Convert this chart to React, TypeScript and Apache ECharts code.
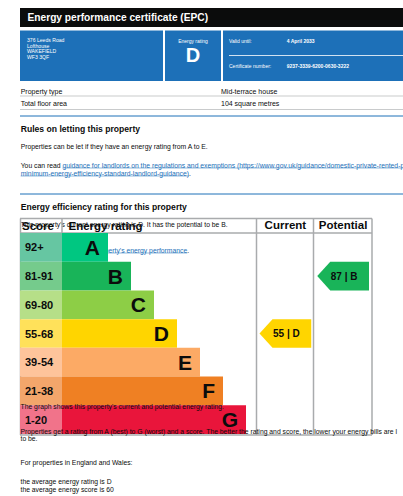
import React, { useEffect, useRef } from 'react';
import * as echarts from 'echarts';

const ratingLetters = ['A', 'B', 'C', 'D', 'E', 'F', 'G'];
const scoreBands = ['92+', '81-91', '69-80', '55-68', '39-54', '21-38', '1-20'];
const barLengths = [2, 3, 4, 5, 6, 7, 8];
const barColors = ['#00c781', '#19b459', '#8dce46', '#ffd500', '#fcaa65', '#ef8023', '#e9153b'];
const scoreColors = ['#66c6a2', '#75cb8c', '#b6df88', '#ffe15a', '#fec49b', '#f3a66b', '#f1738a'];
const ratingColumns = ['Current', 'Potential'];
const ratingScores = [55, 87];
const ratingBands = ['D', 'B'];

const addressLines = ['376 Leeds Road', 'Lofthouse', 'WAKEFIELD', 'WF3 3QF'];
const certificateRating = 'D';
const validUntil = '4 April 2033';
const certificateNumber = '9237-3339-6200-0630-3222';
const propertyRows = [
  ['Property type', 'Mid-terrace house'],
  ['Total floor area', '104 square metres'],
];

const FONT = '"Liberation Sans", Arial, Helvetica, sans-serif';
const INK = '#0b0c0c';
const BLUE = '#1d70b8';
const GREY = '#b1b4b6';
const TABLE = '#a9abad';
const BODY = 6.8;

let measureCtx: CanvasRenderingContext2D | null = null;
const tw = (text: string, size: number, bold = false) => {
  if (!measureCtx) measureCtx = document.createElement('canvas').getContext('2d');
  if (!measureCtx) return text.length * size * 0.5;
  measureCtx.font = `${bold ? 'bold ' : ''}${size}px ${FONT}`;
  return measureCtx.measureText(text).width;
};

type TOpts = { bold?: boolean; color?: string; align?: string; z?: number };
const T = (x: number, y: number, text: string, size: number, o: TOpts = {}) => ({
  type: 'text',
  x,
  y,
  z: o.z ?? 20,
  style: {
    text,
    fill: o.color ?? INK,
    font: `${o.bold ? 'bold ' : ''}${size}px ${FONT}`,
    textAlign: o.align ?? 'left',
    align: o.align ?? 'left',
    textVerticalAlign: 'middle',
    verticalAlign: 'middle',
  },
});
const L = (x1: number, y1: number, x2: number, y2: number, stroke: string, w: number, z = 20) => ({
  type: 'line',
  z,
  shape: { x1, y1, x2, y2 },
  style: { stroke, lineWidth: w },
});
const R = (x: number, y: number, width: number, height: number, fill: string, z = 20) => ({
  type: 'rect',
  z,
  shape: { x, y, width, height },
  style: { fill },
});
// a run of plain text followed by a link (underlined) and a tail
const linkRun = (x: number, y: number, pre: string, link: string, post: string, z = 20, ulEnd?: number) => {
  const x1 = x + tw(pre, BODY);
  const x2 = x1 + tw(link, BODY);
  const out: any[] = [];
  if (pre) out.push(T(x, y, pre, BODY, { z }));
  out.push(T(x1, y, link, BODY, { z, color: BLUE }));
  out.push(L(x1, y + 3, ulEnd ?? x2, y + 3, BLUE, 0.5, z));
  if (post) out.push(T(x2, y, post, BODY, { z }));
  return out;
};

export default function App() {
  const ref = useRef<HTMLDivElement>(null);
  useEffect(() => {
    if (!ref.current) return;
    const chart = echarts.init(ref.current, undefined, { renderer: 'svg' });
    const gTop = 233;
    const gH = 201;

    const graphics: any[] = [
      // header
      R(20, 8, 383, 19, INK),
      T(27.5, 17.5, 'Energy performance certificate (EPC)', 10.2, { bold: true, color: '#fff' }),
      R(20, 30.5, 143, 50.5, BLUE),
      R(165, 30.5, 56, 50.5, BLUE),
      R(223, 30.5, 180, 50.5, BLUE),
      ...addressLines.map((t, i) => T(27, 40 + i * 5.7, t, 5.1, { color: '#fff' })),
      T(193, 40.5, 'Energy rating', 5, { color: '#fff', align: 'center' }),
      T(193, 54.5, certificateRating, 20, { color: '#fff', align: 'center', bold: true }),
      T(229, 40.5, 'Valid until:', 5, { color: '#fff' }),
      T(286.7, 40.5, validUntil, 5, { color: '#fff', bold: true }),
      L(229, 55.5, 403, 55.5, '#fff', 0.8),
      T(229, 66, 'Certificate number:', 5, { color: '#fff' }),
      T(286.7, 66, certificateNumber, 5, { color: '#fff', bold: true }),
      // property rows
      ...propertyRows.flatMap((r, i) => [
        T(20.7, 91 + i * 12, r[0], 7),
        T(221, 91 + i * 12, r[1], 7),
        L(20, 96 + i * 13.5, 403, 96 + i * 13.5, GREY, 0.7),
      ]),
      L(20, 116, 403, 116, BLUE, 1),
      T(20.7, 128.5, 'Rules on letting this property', 8.6, { bold: true }),
      T(20.7, 146, 'Properties can be let if they have an energy rating from A to E.', BODY),
      ...linkRun(
        20.7,
        165,
        'You can read ',
        'guidance for landlords on the regulations and exemptions (https://www.gov.uk/guidance/domestic-private-rented-prop',
        '',
        20,
        403
      ),
      ...linkRun(20.7, 173, '', 'minimum-energy-efficiency-standard-landlord-guidance)', '.'),
      L(20, 194, 403, 194, BLUE, 1),
      T(20.7, 207, 'Energy efficiency rating for this property', 8.6, { bold: true }),
      // texts behind table
      T(20.5, 224, "This property's current energy rating is D. It has the potential to be B.", BODY, { z: 1 }),
      ...linkRun(20.5, 250, 'See how to ', "improve this property's energy performance", '.', 1),
      // table lines
      L(20, 218.5, 372, 218.5, TABLE, 1.5, 1),
      L(20, 233, 372, 233, TABLE, 1.5, 1),
      L(20, 435, 372, 435, TABLE, 1.5, 1),
      L(20.5, 218.5, 20.5, 435, TABLE, 1.5, 1),
      L(62, 218.5, 62, 233, TABLE, 1.5, 1),
      L(256.5, 218.5, 256.5, 435, TABLE, 1.5, 1),
      L(313.5, 218.5, 313.5, 435, TABLE, 1.5, 1),
      L(372, 218.5, 372, 435, TABLE, 1.5, 1),
      T(22, 226, 'Score', 11.5, { bold: true, z: 5 }),
      T(68.5, 226, 'Energy rating', 11.5, { bold: true, z: 5 }),
      // texts over table
      T(20.5, 406.7, "The graph shows this property's current and potential energy rating.", BODY, { z: 20 }),
      T(
        20.5,
        431,
        'Properties get a rating from A (best) to G (worst) and a score. The better the rating and score, the lower your energy bills are l',
        BODY,
        { z: 20 }
      ),
      T(20.5, 438.8, 'to be.', BODY),
      T(20.5, 462, 'For properties in England and Wales:', BODY),
      T(20.5, 481, 'the average energy rating is D', BODY),
      T(20.5, 489, 'the average energy score is 60', BODY),
    ];

    const option: any = {
      animation: false,
      backgroundColor: '#fff',
      grid: [
        { left: 20, top: gTop, width: 42, height: gH },
        { left: 62, top: gTop, width: 184, height: gH },
        { left: 256.5, top: gTop, width: 115.5, height: gH },
      ],
      xAxis: [
        { gridIndex: 0, type: 'value', min: 0, max: 1, show: false },
        { gridIndex: 1, type: 'value', min: 0, max: 8, show: false },
        {
          gridIndex: 2,
          type: 'category',
          data: ratingColumns,
          position: 'top',
          axisLine: { show: false },
          axisTick: { show: false },
          splitLine: { show: false },
          axisLabel: {
            interval: 0,
            hideOverlap: false,
            margin: 2,
            fontSize: 11.5,
            fontWeight: 'bold',
            color: INK,
            fontFamily: FONT,
          },
        },
      ],
      yAxis: [0, 1, 2].map((i) => ({
        gridIndex: i,
        type: 'category',
        data: ratingLetters,
        inverse: true,
        show: false,
      })),
      graphic: { elements: graphics },
      series: [
        {
          type: 'bar',
          xAxisIndex: 0,
          yAxisIndex: 0,
          barCategoryGap: '0%',
          data: ratingLetters.map((_, i) => ({ value: 1, itemStyle: { color: scoreColors[i] } })),
          label: {
            show: true,
            position: 'insideLeft',
            distance: 5,
            formatter: (p: any) => scoreBands[p.dataIndex],
            fontSize: 11,
            fontWeight: 'bold',
            color: INK,
            fontFamily: FONT,
          },
        },
        {
          type: 'bar',
          xAxisIndex: 1,
          yAxisIndex: 1,
          barCategoryGap: '0%',
          data: barLengths.map((v, i) => ({ value: v, itemStyle: { color: barColors[i] } })),
          label: {
            show: true,
            position: 'insideRight',
            distance: 8,
            formatter: (p: any) => ratingLetters[p.dataIndex],
            fontSize: 21,
            fontWeight: 'bold',
            color: INK,
            fontFamily: FONT,
          },
        },
        {
          type: 'custom',
          xAxisIndex: 2,
          yAxisIndex: 2,
          data: ratingColumns.map((c, i) => [c, ratingBands[i], ratingScores[i]]),
          renderItem: (params: any, api: any) => {
            const i = params.dataIndex;
            const c = api.coord([api.value(0), api.value(1)]);
            const s = api.size([1, 1]);
            const left = c[0] - s[0] / 2 + 3;
            const right = c[0] + s[0] / 2 - 3;
            const top = c[1] - s[1] / 2;
            const bottom = c[1] + s[1] / 2;
            const tip = 13;
            const color = barColors[ratingLetters.indexOf(ratingBands[i])];
            return {
              type: 'group',
              children: [
                {
                  type: 'polygon',
                  shape: {
                    points: [[left, c[1]], [left + tip, top], [right, top], [right, bottom], [left + tip, bottom]],
                  },
                  style: { fill: color },
                },
                {
                  type: 'text',
                  x: (left + right) / 2 + 1,
                  y: c[1],
                  style: {
                    text: `${api.value(2)} | ${ratingBands[i]}`,
                    font: `bold 10px ${FONT}`,
                    fill: INK,
                    textAlign: 'center',
                    align: 'center',
                    textVerticalAlign: 'middle',
                    verticalAlign: 'middle',
                  },
                },
              ],
            };
          },
        },
      ],
    };
    chart.setOption(option);
    return () => chart.dispose();
  }, []);
  return (
    <div
      ref={ref}
      style={{ position: 'absolute', left: 0, top: 0, width: 403, height: 496, background: '#fff' }}
    />
  );
}
